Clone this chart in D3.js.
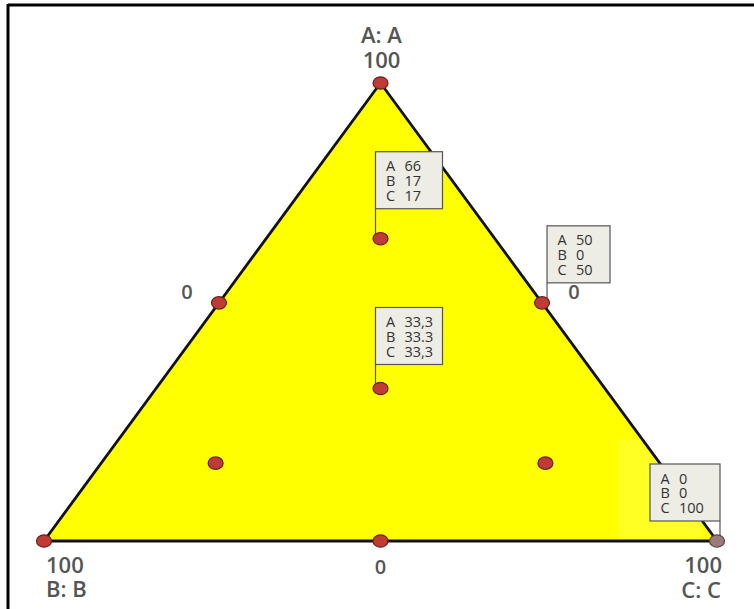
<!DOCTYPE html>
<html>
<head>
<meta charset="utf-8">
<script src="https://cdn.jsdelivr.net/npm/d3@7"></script>
<style>
  html, body { margin: 0; padding: 0; background: #fff; }
  svg { display: block; }
</style>
</head>
<body>
<svg id="chart" width="754" height="609"></svg>
<script>
// ---- data ----
const axisNames   = ["A: A", "B: B", "C: C"];
const tickLabels  = ["0", "100"];
const aValues = [100, 0,   0,   66, 52, 52, 33.3, 17, 17, 0];
const bValues = [0,   100, 0,   17, 48, 0,  33.3, 66, 17, 50];
const cValues = [0,   0,   100, 17, 0,  48, 33.3, 17, 66, 50];
const notePoints = [3, 5, 6, 2];
const noteLines = [
  ["A", "66",   "B", "17",   "C", "17"],
  ["A", "50",   "B", "0",    "C", "50"],
  ["A", "33,3", "B", "33.3", "C", "33,3"],
  ["A", "0",    "B", "0",    "C", "100"]
];

// ---- drawing ----
const svg = d3.select("#chart");
const yScale = d3.scaleLinear().domain([0, 100]).range([541, 83]);     // A share
const xScale = d3.scaleLinear().domain([-100, 100]).range([44, 717]);  // C - B
const proj = (a, b, c) => [xScale(c - b), yScale(a)];

// frame (top + left)
svg.append("line").attr("x1", 8).attr("y1", 5).attr("x2", 754).attr("y2", 5)
  .attr("stroke", "#000").attr("stroke-width", 3);
svg.append("line").attr("x1", 8).attr("y1", 4).attr("x2", 8).attr("y2", 609)
  .attr("stroke", "#000").attr("stroke-width", 3);

// triangle
const verts = [proj(100, 0, 0), proj(0, 100, 0), proj(0, 0, 100)];
svg.append("clipPath").attr("id", "triClip").append("path")
  .attr("d", d3.line()(verts) + "Z");
svg.append("path")
  .attr("d", d3.line()(verts) + "Z")
  .attr("fill", "#FFFF00");
// faint lighter patch near C corner
svg.append("rect").attr("x", 618).attr("y", 440).attr("width", 84).attr("height", 101)
  .attr("fill", "#FFFF66").attr("opacity", 0.35)
  .attr("clip-path", "url(#triClip)");
svg.append("path")
  .attr("d", d3.line()(verts) + "Z")
  .attr("fill", "none")
  .attr("stroke", "#111")
  .attr("stroke-width", 2.8)
  .attr("stroke-linejoin", "round");

const font = "'Open Sans', 'DejaVu Sans', sans-serif";

// vertex titles and 100 ticks
const tA = proj(100, 0, 0), tB = proj(0, 100, 0), tC = proj(0, 0, 100);
const tg = svg.append("g").attr("font-family", font).attr("font-size", 22)
  .attr("font-weight", 600).attr("fill", "#555");
tg.append("text").attr("x", tA[0] + 1).attr("y", tA[1] - 40).attr("text-anchor", "middle").text(axisNames[0]);
tg.append("text").attr("x", tA[0] + 1).attr("y", tA[1] - 15).attr("text-anchor", "middle").text(tickLabels[1]);
tg.append("text").attr("x", tB[0] + 2).attr("y", tB[1] + 32).attr("text-anchor", "start").text(tickLabels[1]);
tg.append("text").attr("x", tB[0] + 2).attr("y", tB[1] + 56).attr("text-anchor", "start").text(axisNames[1]);
tg.append("text").attr("x", tC[0] + 5).attr("y", tC[1] + 32).attr("text-anchor", "end").text(tickLabels[1]);
tg.append("text").attr("x", tC[0] + 4).attr("y", tC[1] + 57).attr("text-anchor", "end").text(axisNames[2]);

// 0 ticks at edge midpoints
const mL = proj(52, 48, 0), mR = proj(52, 0, 48), mB = proj(0, 50, 50);
const zg = svg.append("g").attr("font-family", font).attr("font-size", 20)
  .attr("font-weight", 600).attr("fill", "#555").attr("text-anchor", "middle");
zg.append("text").attr("x", mL[0] - 32).attr("y", mL[1] - 4).text(tickLabels[0]);
zg.append("text").attr("x", mR[0] + 32).attr("y", mR[1] - 4).text(tickLabels[0]);
zg.append("text").attr("x", mB[0]).attr("y", mB[1] + 33).text(tickLabels[0]);

// points
const pts = aValues.map((a, i) => proj(a, bValues[i], cValues[i]));

// annotations (layout: box anchor relative to dot)
const noteLayout = [
  { dx: -5, dy: -30, w: 67, side: "left" },
  { dx: 5,  dy: -20, w: 63, side: "left" },
  { dx: -5, dy: -24, w: 67, side: "left" },
  { dx: 3,  dy: -20, w: 70, side: "right" }
];
const boxH = 57;

// leader lines first
notePoints.forEach((pi, k) => {
  const p = pts[pi], L = noteLayout[k];
  const lx = p[0] + L.dx;
  svg.append("line").attr("x1", lx).attr("y1", p[1] + L.dy).attr("x2", lx).attr("y2", p[1] - 3)
    .attr("stroke", "#555").attr("stroke-width", 1.2);
});

// dots
svg.append("g").selectAll("ellipse").data(pts).join("ellipse")
  .attr("cx", d => d[0]).attr("cy", d => d[1])
  .attr("rx", 7.5).attr("ry", 6.2)
  .attr("fill", (d, i) => i === 2 ? "#9A7A7A" : "#BF3B36")
  .attr("stroke", (d, i) => i === 2 ? "#5a4646" : "#6E1E1A")
  .attr("stroke-width", 1.2);

// boxes
notePoints.forEach((pi, k) => {
  const p = pts[pi], L = noteLayout[k];
  const lx = p[0] + L.dx;
  const bx = L.side === "left" ? lx : lx - L.w;
  const by = p[1] + L.dy - boxH;
  const g = svg.append("g");
  g.append("rect").attr("x", bx).attr("y", by).attr("width", L.w).attr("height", boxH)
    .attr("fill", "#EDECE5").attr("stroke", "#555").attr("stroke-width", 1.2);
  const lines = noteLines[k];
  for (let j = 0; j < 3; j++) {
    const t = g.append("text").attr("font-family", font).attr("font-size", 14.5).attr("fill", "#333")
      .attr("y", by + 19.5 + j * 14.8);
    t.append("tspan").attr("x", bx + 10.5).text(lines[j * 2]);
    t.append("tspan").attr("x", bx + 29).text(lines[j * 2 + 1]);
  }
});
</script>
</body>
</html>
